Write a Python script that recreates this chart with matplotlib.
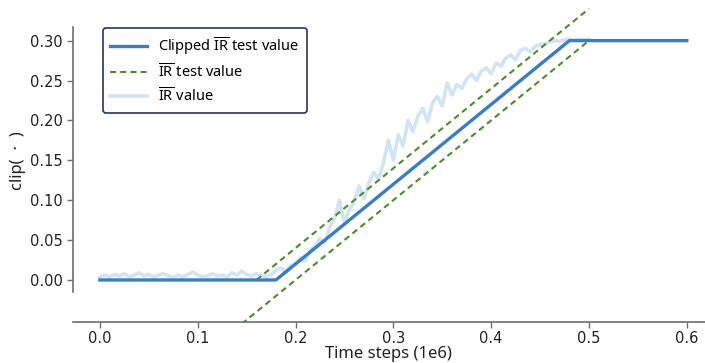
import matplotlib
matplotlib.use("Agg")
import matplotlib.pyplot as plt
import numpy as np

# ---- data ----
clip_x = [0.0, 0.18, 0.48, 0.60]
clip_y = [0.0, 0.0, 0.30, 0.30]

upper_x = [0.16, 0.50]
upper_y = [0.00, 0.34]
lower_x = [0.145, 0.50]
lower_y = [-0.055, 0.30]

ir_x = [round(0.005 * i, 3) for i in range(101)]
ir_y = [0.003, 0.006, 0.004, 0.007, 0.005, 0.008, 0.004, 0.006, 0.009, 0.005,
        0.007, 0.004, 0.006, 0.008, 0.005, 0.003, 0.006, 0.004, 0.007, 0.010,
        0.006, 0.004, 0.005, 0.008, 0.005, 0.006, 0.004, 0.009, 0.006, 0.011,
        0.007, 0.005, 0.008, 0.006, 0.004, 0.007, 0.012, 0.015, 0.010, 0.018,
        0.020, 0.028, 0.024, 0.038, 0.042, 0.052, 0.047, 0.066, 0.078, 0.100,
        0.072, 0.088, 0.098, 0.118, 0.102, 0.122, 0.135, 0.126, 0.148, 0.175,
        0.150, 0.182, 0.168, 0.200, 0.186, 0.205, 0.215, 0.198, 0.222, 0.230,
        0.218, 0.247, 0.232, 0.245, 0.240, 0.252, 0.258, 0.250, 0.262, 0.266,
        0.258, 0.272, 0.268, 0.278, 0.282, 0.276, 0.288, 0.290, 0.286, 0.293,
        0.295, 0.296, 0.298, 0.300, 0.299, 0.301, 0.302, 0.300, 0.302, 0.301,
        0.302]

xticks = [0.0, 0.1, 0.2, 0.3, 0.4, 0.5, 0.6]
yticks = [0.00, 0.05, 0.10, 0.15, 0.20, 0.25, 0.30]

# ---- style ----
plt.rcParams['mathtext.fontset'] = 'custom'
plt.rcParams['mathtext.rm'] = 'Noto Sans'
plt.rcParams['mathtext.it'] = 'Noto Sans:italic'
plt.rcParams['mathtext.bf'] = 'Noto Sans:bold'
label_font = ['Noto Sans', 'DejaVu Sans']

fig = plt.figure(figsize=(7.05, 3.63), dpi=100)
ax = fig.add_axes([72.5 / 705, 41.3 / 363, 1 - 72.5 / 705, 1 - 41.3 / 363])

ax.plot(ir_x, ir_y, color='#c4dbef', lw=2.6, alpha=0.75, label=r'$\overline{\mathrm{IR}}$ value', zorder=1)
ax.plot(clip_x, clip_y, color='#3a7ebf', lw=2.4, label=r'Clipped $\overline{\mathrm{IR}}$ test value', zorder=3)
ax.plot(upper_x, upper_y, color='#4b8c2a', lw=1.5, ls=(0, (2.9, 2.0)), label=r'$\overline{\mathrm{IR}}$ test value', zorder=2)
ax.plot(lower_x, lower_y, color='#4b8c2a', lw=1.5, ls=(0, (2.9, 2.0)), zorder=2)

ax.set_xlim(-0.028, 0.6186)
ax.set_ylim(-0.0523, 0.3509)
ax.set_xticks(xticks)
ax.set_xticklabels([f"{v:.1f}" for v in xticks])
ax.set_yticks(yticks)
ax.set_yticklabels([f"{v:.2f}" for v in yticks])

for s in ['top', 'right']:
    ax.spines[s].set_visible(False)
for s in ['left', 'bottom']:
    ax.spines[s].set_color('#6e6e6e')
    ax.spines[s].set_linewidth(1.2)
ax.spines['left'].set_bounds(-0.015, 0.317)

ax.tick_params(axis='both', direction='out', length=4, width=1, color='#6e6e6e',
               labelsize=10.5, labelcolor='#222222', pad=3)

ax.set_xlabel('Time steps (1e6)', family=label_font, fontsize=12, color='#222222', labelpad=0)
ax.set_ylabel('clip(  ·  )', family=label_font, fontsize=12, color='#222222', labelpad=3)

handles, labels = ax.get_legend_handles_labels()
order = [1, 2, 0]
leg = ax.legend([handles[i] for i in order], [labels[i] for i in order],
                loc='upper left', bbox_to_anchor=((103 - 72.5) / (705 - 72.5), 1 - 28 / 321.7),
                prop={'family': label_font, 'size': 10.5}, frameon=True, fancybox=True,
                edgecolor='#26355a', framealpha=1, handlelength=2.5, borderpad=0.5,
                labelspacing=0.42, borderaxespad=0)
leg.get_frame().set_linewidth(1.2)

fig.savefig('out.png', dpi=100)
